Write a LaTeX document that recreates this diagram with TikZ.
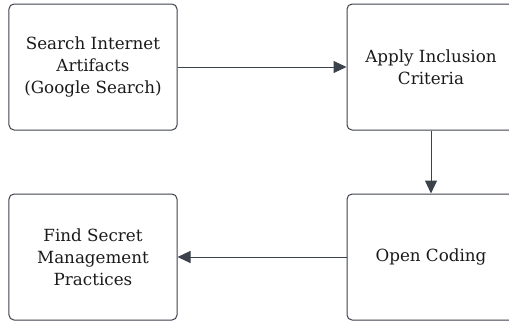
\documentclass[tikz,border=0pt]{standalone}
\usepackage{fontspec}
\setmainfont{DejaVu Serif}
\usepackage{xcolor}
\usetikzlibrary{arrows.meta, positioning}
\definecolor{edge}{HTML}{3C424C}
\definecolor{txt}{HTML}{1A1A1A}

\begin{document}
\begin{tikzpicture}[x=1bp, y=-1bp,
            box/.style={draw=edge, line width=1bp, rectangle, rounded corners=5bp, minimum width=168bp, minimum height=126bp, align=center, text=txt, font=\fontsize{16.8}{22}\selectfont},
            flow/.style={-{Triangle[length=13bp, width=12bp]}, draw=edge, fill=edge, line width=1bp}]
            \clip (0,0) rectangle (509,321);
            \node[box] (search) at (93,67) {Search Internet\\Artifacts\\(Google Search)};
            \node[box] (apply) at (431,67) {Apply Inclusion\\Criteria};
            \node[box] (coding) at (431,257) {Open Coding};
            \node[box] (find) at (93,257) {Find Secret\\Management\\Practices};

            \draw[flow] (search) -- (apply);
            \draw[flow] (apply) -- (coding);
            \draw[flow] (coding) -- (find);
        \end{tikzpicture}
\end{document}
